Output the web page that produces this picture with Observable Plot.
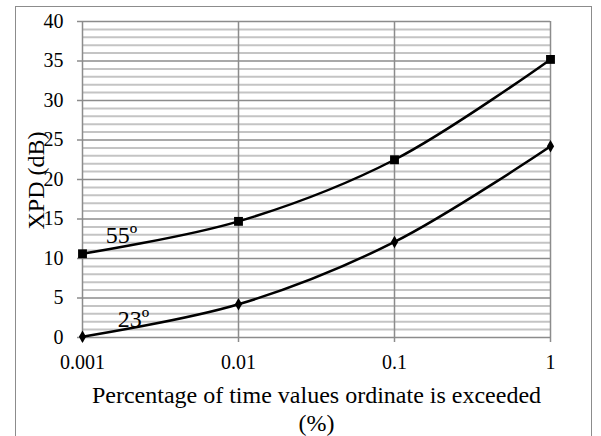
<!DOCTYPE html>
<html>
<head>
<meta charset="utf-8">
<script src="https://cdn.jsdelivr.net/npm/d3@7"></script>
<script src="https://cdn.jsdelivr.net/npm/@observablehq/plot@0.6"></script>
<style>
  html, body { margin: 0; padding: 0; background: #fff; }
  #wrap { position: relative; width: 601px; height: 436px; overflow: hidden; }
  #border { position: absolute; left: 15px; top: 6px; width: 577px; height: 460px; border: 1.5px solid #8c8c8c; box-sizing: border-box; }
  #wrap svg { position: absolute; left: 0; top: 0; font-family: "Liberation Serif", "DejaVu Serif", serif !important; }
  #wrap svg text { font-family: "Liberation Serif", "DejaVu Serif", serif !important; }
</style>
</head>
<body>
<div id="wrap"><div id="border"></div></div>
<script>
const pct = [0.001, 0.01, 0.1, 1];
const xpd55 = [10.6, 14.7, 22.5, 35.2];
const xpd23 = [0.1, 4.2, 12.1, 24.2];
const xTickValues = [0.001, 0.01, 0.1, 1];
const xTickLabels = ["0.001", "0.01", "0.1", "1"];
const yMajor = [0, 5, 10, 15, 20, 25, 30, 35, 40];
const yMinor = d3.range(0, 41).filter(v => v % 5 !== 0);
const seriesLabels = ["55º", "23º"];
const labelX = [0.00178, 0.00212];
const labelY = [12.9, 2.3];
const xTitle = "Percentage of time values ordinate is exceeded\n(%)";
const yTitle = "XPD (dB)";

const d55 = pct.map((p, i) => ({x: p, y: xpd55[i]}));
const d23 = pct.map((p, i) => ({x: p, y: xpd23[i]}));
const labs = seriesLabels.map((t, i) => ({t, x: labelX[i], y: labelY[i]}));
const fmt = new Map(xTickValues.map((v, i) => [v, xTickLabels[i]]));

const grid = "#8c8c8c";
const font = "Liberation Serif";

const chart = Plot.plot({
  width: 601,
  height: 436,
  marginLeft: 82,
  marginRight: 51,
  marginTop: 21,
  marginBottom: 99,
  style: {fontFamily: font, fontSize: "20px", color: "black", background: "transparent"},
  x: {type: "log", domain: [0.001, 1]},
  y: {domain: [0, 40]},
  marks: [
    Plot.ruleY(yMinor, {stroke: "#c4c4c4", strokeWidth: 2}),
    Plot.ruleY(yMajor, {stroke: grid, strokeWidth: 1.5}),
    Plot.ruleX(xTickValues, {stroke: grid, strokeWidth: 1.5}),
    Plot.axisY({ticks: yMajor, tickSize: 5, tickPadding: 14, stroke: grid, strokeWidth: 1.5, fill: "black", label: null, fontSize: 20, fontFamily: font}),
    Plot.axisX({ticks: xTickValues, tickFormat: d => fmt.get(d), tickSize: 5, tickPadding: 12, stroke: grid, strokeWidth: 1.5, fill: "black", label: null, fontSize: 20, fontFamily: font}),
    Plot.line(d55, {x: "x", y: "y", curve: "catmull-rom", stroke: "black", strokeWidth: 2.5}),
    Plot.line(d23, {x: "x", y: "y", curve: "catmull-rom", stroke: "black", strokeWidth: 2.5}),
    Plot.dot(d55, {x: "x", y: "y", symbol: "square", r: 5, fill: "black"}),
    Plot.dot(d23, {x: "x", y: "y", symbol: "diamond", r: 3.8, fill: "black"}),
    Plot.text(labs, {x: "x", y: "y", text: "t", fontSize: 24, fontFamily: font, fill: "black"}),
    Plot.text([xTitle], {frameAnchor: "bottom", lineAnchor: "top", lineHeight: 1.15, dy: 46, fontSize: 24, fontFamily: font, fill: "black"}),
    Plot.text([yTitle], {frameAnchor: "left", textAnchor: "middle", dx: -46, dy: 1, rotate: -90, fontSize: 24, fontFamily: font, fill: "black"})
  ]
});
document.getElementById("wrap").appendChild(chart);
</script>
</body>
</html>
